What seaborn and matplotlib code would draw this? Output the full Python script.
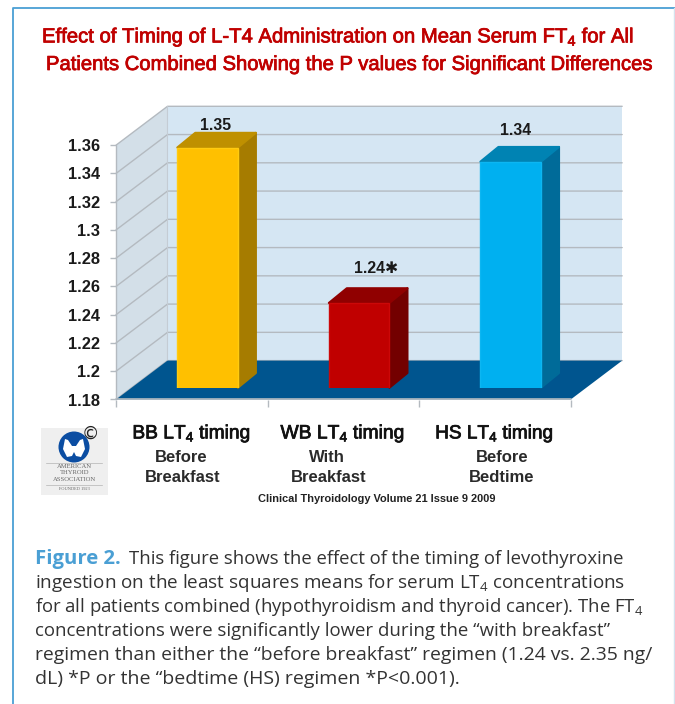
import matplotlib
matplotlib.use('Agg')
import matplotlib.pyplot as plt
import matplotlib.patheffects as pe
import seaborn as sns
import pandas as pd
from matplotlib.patches import Circle, Polygon, Rectangle

# chart values
timings = ['BB', 'WB', 'HS']
means = [1.35, 1.24, 1.34]
value_labels = ['1.35', '1.24\u2731', '1.34']
tick_values = [1.18, 1.2, 1.22, 1.24, 1.26, 1.28, 1.3, 1.32, 1.34, 1.36]
tick_labels = ['1.18', '1.2', '1.22', '1.24', '1.26', '1.28', '1.3', '1.32', '1.34', '1.36']
group_titles = ['BB LT$_4$ timing', 'WB LT$_4$ timing', 'HS LT$_4$ timing']
group_sub1 = ['Before', 'With', 'Before']
group_sub2 = ['Breakfast', 'Breakfast', 'Bedtime']

title_lines = ['Effect of Timing of L-T4 Administration on Mean Serum FT$_4$ for All',
               'Patients Combined Showing the P values for Significant Differences']
caption_lines = ['This figure shows the effect of the timing of levothyroxine',
                 'ingestion on the least squares means for serum LT$_4$ concentrations',
                 'for all patients combined (hypothyroidism and thyroid cancer). The FT$_4$',
                 'concentrations were significantly lower during the \u201cwith breakfast\u201d',
                 'regimen than either the \u201cbefore breakfast\u201d regimen (1.24 vs. 2.35 ng/',
                 'dL) *P or the \u201cbedtime (HS) regimen *P<0.001).']

front_colors = ['#FFC000', '#C00000', '#00B0F0']
top_colors = ['#BF9000', '#900000', '#0083B3']
side_colors = ['#A67C00', '#730000', '#006B99']
edge_colors = ['#FFCB10', '#CC0808', '#0CB6F2']

W, H = 675, 704

sns.set_style('white')
plt.rcParams['font.family'] = ['Liberation Sans', 'DejaVu Sans']
plt.rcParams['mathtext.default'] = 'regular'

fig = plt.figure(figsize=(W / 100, H / 100), dpi=100)
renderer = fig.canvas.get_renderer()


def box(left, right, bottom, top):
    return [left / W, 1 - bottom / H, (right - left) / W, (bottom - top) / H]


def fit_width(t, width):
    t.set_fontsize(t.get_fontsize() * width / t.get_window_extent(renderer).width)


def heavy_text(x, y, s, width, color, stroke=0.55, ha='left'):
    # regular face with a thin stroke, sized to the width it has in the reference
    t = fig.text(x / W, 1 - y / H, s, fontsize=14, color=color, ha=ha, va='center')
    fit_width(t, width)
    t.set_path_effects([pe.withStroke(linewidth=stroke, foreground=color)])
    return t


# page frame + logo, drawn in pixel space
bg = fig.add_axes([0, 0, 1, 1], zorder=0)
bg.set_xlim(0, W)
bg.set_ylim(H, 0)
bg.axis('off')
bg.plot([12.5, 12.5, W], [H, 8, 8], color='#4A9FD4', lw=1.3)
bg.plot([674, 674], [8, H], color='#D5E3EE', lw=1)

bg.add_patch(Rectangle((41, 428), 67, 67, color='#EFEFEF', lw=0))
bg.add_patch(Circle((74, 447), 15.5, color='#0B4DA2', lw=0))
bg.add_patch(Polygon([(65, 439), (68, 440), (72, 446), (76, 446), (80, 440), (83, 439),
                      (85, 449), (81, 457), (76, 456), (74, 452), (72, 456), (67, 457), (63, 449)],
                     color='white', lw=0))
bg.text(90, 434, '\u00a9', fontsize=12.5, ha='center', va='center', color='#222222', family='DejaVu Sans')
for yy, txt, fs in [(466, 'AMERICAN', 4.8), (473, 'THYROID', 4.8), (479.5, 'ASSOCIATION', 4.8), (489, 'FOUNDED 1923', 3.2)]:
    bg.text(74.5, yy, txt, fontsize=fs, ha='center', va='center', color='#666666', family='Liberation Serif')
bg.plot([46, 102], [463, 463], color='#C4C4C4', lw=0.7)
bg.plot([46, 102], [485, 485], color='#C4C4C4', lw=0.7)

# front plane of the 3d box: value scale and category slots
ax = fig.add_axes(box(116, 570.7, 399.5, 145.2), zorder=1)
ax.set_xlim(-0.5, 2.5)
ax.set_ylim(1.18, 1.36)
ax.patch.set_alpha(0)
for s in ax.spines.values():
    s.set_visible(False)

per_px_x = 3 / (570.7 - 116)
per_px_y = 0.18 / (399.5 - 145.2)
dx = 51.5 * per_px_x
dy = 38.9 * per_px_y
x0, x1, y0, y1 = -0.5, 2.5, 1.18, 1.36
grey = '#B4BAC0'

ax.fill([x0, x0 + dx, x0 + dx, x0], [y0, y0 + dy, y1 + dy, y1], color='#D3DFE8', lw=0, clip_on=False, zorder=1)
ax.fill([x0 + dx, x1 + dx, x1 + dx, x0 + dx], [y0 + dy, y0 + dy, y1 + dy, y1 + dy], color='#D5E6F3', lw=0, clip_on=False, zorder=1)
for t in tick_values:
    ax.plot([x0, x0 + dx, x1 + dx], [t, t + dy, t + dy], color=grey, lw=1, clip_on=False, zorder=2)
ax.plot([x0, x0], [y0, y1], color=grey, lw=1, clip_on=False, zorder=2)
ax.plot([x0 + dx, x0 + dx], [y0 + dy, y1 + dy], color='#C4CCD4', lw=0.8, clip_on=False, zorder=2)
ax.fill([x0, x1, x1 + dx, x0 + dx], [y0, y0, y0 + dy, y0 + dy], color='#00558F', lw=0, clip_on=False, zorder=3)
ax.plot([x0, x1], [y0, y0], color=grey, lw=1.2, clip_on=False, zorder=4)

ax.set_xticks([-0.5, 0.5, 1.5, 2.5])
ax.set_xticklabels([])
ax.set_yticks(tick_values)
ax.set_yticklabels(tick_labels, fontsize=11.8, fontweight='bold', color='#1A1A1A')
ax.tick_params(axis='x', bottom=True, length=5.2, width=1, color=grey, pad=0)
ax.tick_params(axis='y', left=True, length=4.5, width=1, color=grey, pad=7)

# bars live in their own axes, pushed back into the box
bar_dx = 15.8
bar_dy = 11.8
bars = fig.add_axes(box(116 + bar_dx, 570.7 + bar_dx, 399.5 - bar_dy, 145.2 - bar_dy), zorder=2)
df = pd.DataFrame({'timing': timings, 'mean': means})
sns.barplot(data=df, x='timing', y='mean', hue='timing', palette=front_colors, width=0.4,
            legend=False, ax=bars, saturation=1, zorder=5)
bars.set_xlim(-0.5, 2.5)
bars.set_ylim(1.18, 1.36)
bars.axis('off')

depth_x = 18 * per_px_x
depth_y = 14.7 * per_px_y
for i, (p, v) in enumerate(zip(bars.patches, means)):
    l, r = p.get_x(), p.get_x() + p.get_width()
    p.set_edgecolor(edge_colors[i])
    p.set_linewidth(1)
    bars.fill([r, r + depth_x, r + depth_x, r], [1.18, 1.18 + depth_y, v + depth_y, v],
              color=side_colors[i], lw=1.5, joinstyle='round', clip_on=False, zorder=4)
    bars.fill([l, l + depth_x, r + depth_x, r], [v, v + depth_y, v + depth_y, v],
              color=top_colors[i], lw=1.5, joinstyle='round', clip_on=False, zorder=4)

label_shift = [(8, 22.5), (16.5, 34), (5, 31)]
for i, v in enumerate(means):
    bars.annotate(value_labels[i], (i, v), xytext=label_shift[i], textcoords='offset pixels',
                  ha='center', va='center', fontsize=11.3, fontweight='bold',
                  color='#1A1A1A', annotation_clip=False)

# texts below the chart
title_x = [191.5, 342.7, 494.5]
title_w = [119, 125, 119]
sub1_x = [181, 327, 501.7]
sub2_x = [183, 329, 502]
for i in range(3):
    heavy_text(title_x[i], 434, group_titles[i], title_w[i], '#111111', ha='center')
    fig.text(sub1_x[i] / W, 1 - 458 / H, group_sub1[i], fontsize=12, fontweight='bold',
             ha='center', va='center', color='#2A2A2A')
    fig.text(sub2_x[i] / W, 1 - 478 / H, group_sub2[i], fontsize=12, fontweight='bold',
             ha='center', va='center', color='#2A2A2A')
fig.text(377 / W, 1 - 499 / H, 'Clinical Thyroidology Volume 21 Issue 9 2009', fontsize=7.95, fontweight='bold',
         ha='center', va='center', color='#222222')

heavy_text(42, 37, title_lines[0], 594, '#C00000')
heavy_text(46, 64.5, title_lines[1], 610, '#C00000')

cap_font = 'Open Sans'
fig.text(35 / W, 1 - 564 / H, 'Figure 2.', fontsize=14.6, fontweight='bold', family=cap_font, color='#4A9FD4',
         ha='left', va='baseline')
# each caption line is fitted to the width it spans in the reference
caption_w = [496, 589, 608, 575, 617, 424]
for i, line in enumerate(caption_lines):
    x = 129 if i == 0 else 35
    t = fig.text(x / W, 1 - (564 + 24 * i) / H, line, fontsize=13.6, family=cap_font, color='#333333',
                 ha='left', va='baseline')
    fit_width(t, caption_w[i])

fig.savefig('out.png', dpi=100)
